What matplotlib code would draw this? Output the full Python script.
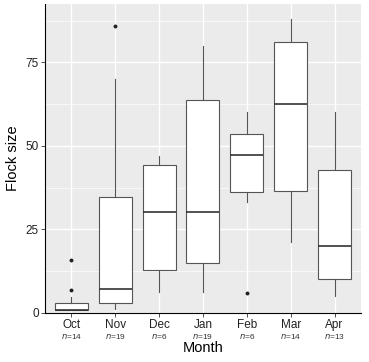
import matplotlib.pyplot as plt
from matplotlib.transforms import blended_transform_factory

plt.rcParams['font.family'] = ['Liberation Sans', 'DejaVu Sans']

# Monthly flock size box statistics
months = ["Oct", "Nov", "Dec", "Jan", "Feb", "Mar", "Apr"]
n_obs = [14, 19, 6, 19, 6, 14, 13]
whislo = [1, 1.3, 6.3, 6.3, 33.2, 21.2, 5.1]
q1 = [1, 3.1, 12.8, 15.1, 36.1, 36.4, 10.1]
med = [1, 7.2, 30.2, 30.2, 47.2, 62.6, 20.2]
q3 = [3.1, 34.6, 44.2, 63.7, 53.6, 81.0, 42.8]
whishi = [4.8, 70, 47.1, 80, 60.1, 88.1, 60.1]
fliers = [[16, 7], [86], [], [], [6], [], []]

stats = []
for i in range(len(months)):
    stats.append(dict(whislo=whislo[i], q1=q1[i], med=med[i], q3=q3[i],
                      whishi=whishi[i], fliers=fliers[i]))

fig = plt.figure(figsize=(3.69, 3.62), dpi=100)
ax = fig.add_axes([0.122, 0.1354, 0.856, 0.8536])
ax.set_facecolor('#EBEBEB')

pos = list(range(1, len(months) + 1))
ax.bxp(stats, positions=pos, widths=0.75, patch_artist=True, showcaps=False,
       boxprops=dict(facecolor='white', edgecolor='#555555', linewidth=0.8),
       whiskerprops=dict(color='#555555', linewidth=0.8),
       medianprops=dict(color='#333333', linewidth=1.2),
       flierprops=dict(marker='o', markersize=1.8, markerfacecolor='#222222',
                       markeredgecolor='#222222'),
       zorder=3)

ax.set_xlim(0.4, 7.6)
ax.set_ylim(0, 92.5)
ax.set_yticks([0, 25, 50, 75])
ax.set_yticks([12.5, 37.5, 62.5, 87.5], minor=True)
ax.set_xticks(pos)
ax.set_xticklabels(months)
ax.grid(which='major', color='white', linewidth=1.0, zorder=0)
ax.grid(which='minor', axis='y', color='white', linewidth=0.5, zorder=0)
ax.set_axisbelow(True)

for s in ['top', 'right']:
    ax.spines[s].set_visible(False)
for s in ['left', 'bottom']:
    ax.spines[s].set_color('black')
    ax.spines[s].set_linewidth(0.8)

ax.tick_params(axis='both', which='major', length=3, width=0.6, color='#333333',
               labelsize=8.5, labelcolor='#222222', pad=1.5)
ax.tick_params(axis='both', which='minor', length=0)

trans = blended_transform_factory(ax.transData, ax.transAxes)
for p, n in zip(pos, n_obs):
    ax.text(p, -0.077, f'$n$=' + str(n), transform=trans, ha='center', va='center',
            fontsize=6.0, color='#333333')

ax.set_xlabel('Month', fontsize=10.5, labelpad=7)
ax.set_ylabel('Flock size', fontsize=10.5, labelpad=4)

fig.savefig('out.png', dpi=100)
